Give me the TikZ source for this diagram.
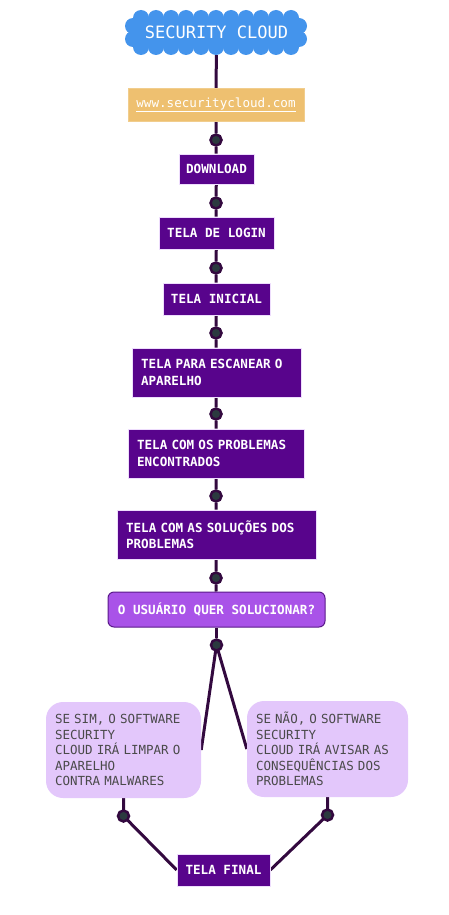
\documentclass[tikz,border=0pt]{standalone}
\usepackage{fontspec}
\newfontfamily\monof{DejaVu Sans Mono}
\usetikzlibrary{backgrounds}
\definecolor{cloudblue}{HTML}{4494EC}
\definecolor{tan}{HTML}{EEC070}
\definecolor{dpurple}{HTML}{58048C}
\definecolor{decpurple}{HTML}{A953E8}
\definecolor{decborder}{HTML}{5A1A8A}
\definecolor{lpurple}{HTML}{E3C7FB}
\definecolor{linec}{HTML}{33093F}
\definecolor{dotc}{HTML}{2B3A3F}
\definecolor{txtgray}{HTML}{4A4A4A}
\tikzset{
  pbox/.style={fill=dpurple, draw=lpurple!60, line width=0.6pt, text=white, font=\monof\bfseries\fontsize{12.6}{16.5}\selectfont, inner sep=0pt},
  pwide/.style={pbox, align=left, inner xsep=9pt, text width=#1-18pt, minimum width=#1},
  lbox/.style={fill=lpurple, rounded corners=17pt, text=txtgray, font=\monof\fontsize{12.5}{15.5}\selectfont, align=left, inner xsep=9pt, inner ysep=0pt},
  dotn/.style={circle, fill=dotc, draw=linec, line width=2.5pt, minimum size=11pt, inner sep=0pt},
  conn/.style={draw=linec, line width=3pt},
  puff/.style={fill=cloudblue},
}
\begin{document}
\begin{tikzpicture}[x=1pt,y=-1pt]
\useasboundingbox (0,0) rectangle (449,915);
% cloud
\fill[cloudblue, rounded corners=10pt] (133,17) rectangle (299,48);
\foreach \cx in {141,156,171,186,201,216,231,246,261,276,291}{
  \fill[puff] (\cx,18) circle (8);
  \fill[puff] (\cx,47) circle (8);
}
\foreach \cy in {26,39}{
  \fill[puff] (133,\cy) circle (8);
  \fill[puff] (299,\cy) circle (8);
}
\node[minimum width=181pt, minimum height=45pt, inner sep=0pt, text=white, font=\monof\fontsize{17}{18}\selectfont] (cloud) at (216.5,32.5) {SECURITY CLOUD};
\node[fill=tan, draw=tan!80!white, text=white, minimum width=176pt, minimum height=33pt, inner sep=0pt, font=\monof\fontsize{12.6}{15}\selectfont] (www) at (216,104.5) {\underline{www.securitycloud.com}};
\node[dotn] (d1) at (216,140) {};
\node[pbox, minimum width=75pt, minimum height=30pt] (download) at (216.5,169) {DOWNLOAD};
\node[dotn] (d2) at (216,203) {};
\node[pbox, minimum width=115pt, minimum height=32pt] (login) at (216.5,233) {TELA DE LOGIN};
\node[dotn] (d3) at (216,268) {};
\node[pbox, minimum width=107pt, minimum height=32pt] (inicial) at (216.5,299) {TELA INICIAL};
\node[dotn] (d4) at (216,333) {};
\node[pwide=169pt, minimum height=49pt] (escanear) at (216.5,372.5) {TELA PARA ESCANEAR O\\APARELHO};
\node[dotn] (d5) at (216,414) {};
\node[pwide=176pt, minimum height=49pt] (encontrados) at (216,453.5) {TELA COM OS PROBLEMAS\\ENCONTRADOS};
\node[dotn] (d6) at (216,496) {};
\node[pwide=199pt, minimum height=49pt] (solucoes) at (216.5,534.5) {TELA COM AS SOLUÇÕES DOS\\PROBLEMAS};
\node[dotn] (d7) at (216,578) {};
\node[fill=decpurple, draw=decborder, line width=1pt, rounded corners=6pt, text=white, font=\monof\bfseries\fontsize{12.6}{15}\selectfont, minimum width=217pt, minimum height=35pt, inner sep=0pt] (decision) at (216.5,609.5) {O USUÁRIO QUER SOLUCIONAR?};
\node[dotn] (d8) at (216.5,645) {};
\node[lbox, text width=137pt, minimum width=155pt, minimum height=96pt] (sim) at (123.5,750) {SE SIM, O SOFTWARE\\SECURITY\\CLOUD IRÁ LIMPAR O\\APARELHO\\CONTRA MALWARES};
\node[lbox, text width=143pt, minimum width=161pt, minimum height=96pt] (nao) at (327.5,749) {SE NÃO, O SOFTWARE\\SECURITY\\CLOUD IRÁ AVISAR AS\\CONSEQUÊNCIAS DOS\\PROBLEMAS};
\node[dotn] (d9) at (123.5,816) {};
\node[dotn] (d10) at (327.5,815) {};
\node[pbox, minimum width=93pt, minimum height=32pt] (final) at (223.5,870) {TELA FINAL};
\begin{pgfonlayer}{background}
\draw[conn] (cloud) -- (www);
\draw[conn] (www) -- (d1) -- (download);
\draw[conn] (download) -- (d2) -- (login);
\draw[conn] (login) -- (d3) -- (inicial);
\draw[conn] (inicial) -- (d4) -- (escanear);
\draw[conn] (escanear) -- (d5) -- (encontrados);
\draw[conn] (encontrados) -- (d6) -- (solucoes);
\draw[conn] (solucoes) -- (d7) -- (decision);
\draw[conn] (decision) -- (d8);
\draw[conn] (d8.center) -- (sim.east);
\draw[conn] (d8.center) -- (nao.west);
\draw[conn] (sim.south) -- (d9.center) -- (final.west);
\draw[conn] (nao.south) -- (d10.center) -- (final.east);
\end{pgfonlayer}
\end{tikzpicture}
\end{document}
